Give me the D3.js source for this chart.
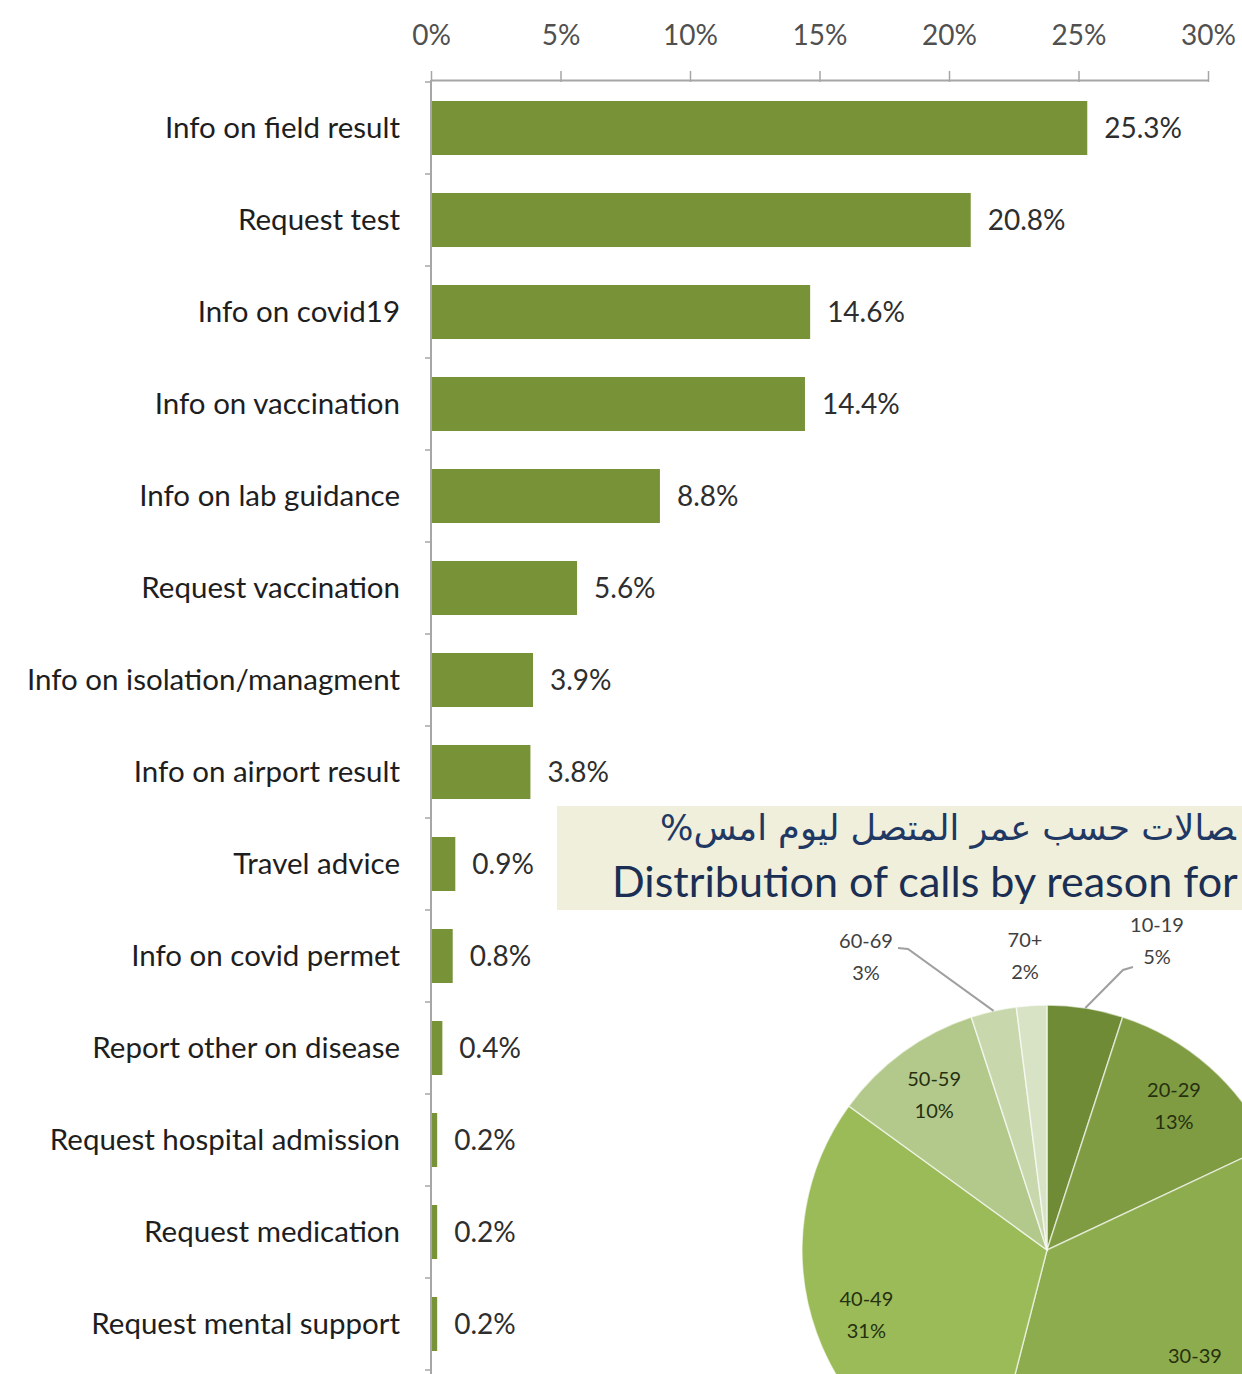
<!DOCTYPE html>
<html>
<head>
<meta charset="utf-8">
<script src="https://cdn.jsdelivr.net/npm/d3@7"></script>
<style>
  html, body { margin: 0; padding: 0; background: #ffffff; }
  svg { display: block; }
</style>
</head>
<body>
<svg id="chart" width="1242" height="1374"></svg>
<script>
// ---------- DATA ----------
const categories = [
  "Info on field result", "Request test", "Info on covid19", "Info on vaccination",
  "Info on lab guidance", "Request vaccination", "Info on isolation/managment",
  "Info on airport result", "Travel advice", "Info on covid permet",
  "Report other on disease", "Request hospital admission", "Request medication",
  "Request mental support"
];
const values = [25.3, 20.8, 14.6, 14.4, 8.8, 5.6, 3.9, 3.8, 0.9, 0.8, 0.4, 0.2, 0.2, 0.2];
const xTicks = [0, 5, 10, 15, 20, 25, 30];

const ageGroups = ["10-19", "20-29", "30-39", "40-49", "50-59", "60-69", "70+"];
const agePercents = [5, 13, 36, 31, 10, 3, 2];

const titleArabic = "\u200Dصالات حسب عمر المتصل ليوم امس%";
const titleEnglish = "Distribution of calls by reason for";

// ---------- LAYOUT / STYLE ----------
const W = 1242, H = 1374;
const svg = d3.select("#chart");
const barColor = "#789238";
const pieColors = ["#6F8B35", "#7F9C43", "#8DAC4D", "#9BBB59", "#B3C98B", "#C8D8AC", "#D8E3C5"];
const font = "Lato, 'Open Sans', sans-serif";

const x = d3.scaleLinear().domain([0, 30]).range([431, 1208]);
const y = d3.scaleBand().domain(categories).range([82, 1370])
  .paddingInner(0.413).paddingOuter(0.2065);

// X axis on top
const xAxis = d3.axisTop(x).tickValues(xTicks).tickFormat(d => d + "%").tickSizeInner(9).tickSizeOuter(0).tickPadding(26);
const gx = svg.append("g").attr("transform", "translate(0,80)").call(xAxis);
gx.select(".domain").attr("stroke", "#a6a6a6").attr("stroke-width", 2);
gx.selectAll(".tick line").attr("stroke", "#a6a6a6").attr("stroke-width", 1.5).attr("y2", -9).attr("y1", 2);
gx.selectAll(".tick text").attr("font-family", font).attr("font-size", 28).attr("fill", "#505050")
  .attr("dy", "0.35em").attr("y", -45);

// Y axis line with boundary ticks
svg.append("line").attr("x1", 431).attr("x2", 431).attr("y1", 80).attr("y2", H)
  .attr("stroke", "#a6a6a6").attr("stroke-width", 2);
const half = y.step() * y.paddingInner() / 2;
const boundaries = categories.map(c => y(c) - half)
  .concat([y(categories[categories.length - 1]) + y.bandwidth() + half]);
svg.append("g").selectAll("line").data(boundaries).join("line")
  .attr("x1", 425).attr("x2", 431).attr("y1", d => d).attr("y2", d => d)
  .attr("stroke", "#a6a6a6").attr("stroke-width", 1.5);

// Category labels
svg.append("g").selectAll("text").data(categories).join("text")
  .attr("x", 400).attr("y", d => y(d) + y.bandwidth() / 2).attr("dy", "0.35em")
  .attr("text-anchor", "end").attr("font-family", font).attr("font-size", 29.5)
  .attr("fill", "#1e1e1e").text(d => d);

// Bars
svg.append("g").selectAll("rect").data(values).join("rect")
  .attr("x", x(0) + 1).attr("y", (d, i) => y(categories[i]))
  .attr("width", d => Math.max(2, x(d) - x(0))).attr("height", y.bandwidth())
  .attr("fill", barColor);

// Value labels
svg.append("g").selectAll("text").data(values).join("text")
  .attr("x", d => x(d) + 18).attr("y", (d, i) => y(categories[i]) + y.bandwidth() / 2).attr("dy", "0.35em")
  .attr("font-family", font).attr("font-size", 28).attr("fill", "#2e2e2e")
  .text(d => d.toFixed(1) + "%");

// ---------- Title banner ----------
svg.append("rect").attr("x", 557).attr("y", 806).attr("width", W - 557).attr("height", 104).attr("fill", "#EFEFDB");
const ta = svg.append("text").attr("x", 660).attr("y", 840).attr("direction", "rtl").attr("text-anchor", "end")
  .attr("font-family", "'DejaVu Sans', sans-serif").attr("font-size", 32).attr("fill", "#1F3864")
  .text(titleArabic);
const aw = ta.node().getComputedTextLength();
ta.attr("font-size", 32 * 576 / aw);
const te = svg.append("text").attr("x", 612).attr("y", 897)
  .attr("font-family", font).attr("font-size", 40).attr("fill", "#1B2F55").text(titleEnglish);
const tw = te.node().getComputedTextLength();
te.attr("font-size", 40 * 626 / tw);

// ---------- Pie ----------
const cx = 1047, cy = 1250, R = 245;
const pie = d3.pie().sort(null).value(d => d)(agePercents);
const arc = d3.arc().innerRadius(0).outerRadius(R);
const labelArc = d3.arc().innerRadius(192).outerRadius(192);
const gp = svg.append("g").attr("transform", `translate(${cx},${cy})`);
gp.selectAll("path").data(pie).join("path")
  .attr("d", arc).attr("fill", (d, i) => pieColors[i])
  .attr("stroke", "#ffffff").attr("stroke-opacity", 0.6).attr("stroke-width", 1.5);

// label placement: inside for large slices, outside (nudged) for small ones
const outside = { 0: [110, -309], 5: [-181, -293], 6: [-22, -294] };
const leader = { 0: [[86, -283], [76, -280]], 5: [[-149, -302], [-139, -301]] };
const lblG = gp.append("g");
pie.forEach((d, i) => {
  let px, py, col;
  if (outside[i]) { [px, py] = outside[i]; col = "#404040"; }
  else { [px, py] = labelArc.centroid(d); col = "#26300f"; }
  const t = lblG.append("text").attr("text-anchor", "middle").attr("font-family", font)
    .attr("font-size", 20).attr("fill", col);
  // the slice label sits at the lower picture edge: keep its first line inside the picture,
  // the second line lies beyond the frame (as in the reference) and is omitted
  const firstY = Math.min(py - 16, H - cy - 12);
  t.append("tspan").attr("x", px).attr("y", firstY).attr("dy", "0.35em").text(ageGroups[i]);
  if (cy + py + 16 + 10 < H) {
    t.append("tspan").attr("x", px).attr("y", py + 16).attr("dy", "0.35em").text(agePercents[i] + "%");
  }
  if (leader[i]) {
    const mid = (d.startAngle + d.endAngle) / 2;
    const ex = Math.sin(mid) * R, ey = -Math.cos(mid) * R;
    const pts = [leader[i][0], leader[i][1], [ex, ey]];
    lblG.append("path").attr("d", d3.line()(pts)).attr("fill", "none")
      .attr("stroke", "#a0a0a0").attr("stroke-width", 2);
  }
});
</script>
</body>
</html>
